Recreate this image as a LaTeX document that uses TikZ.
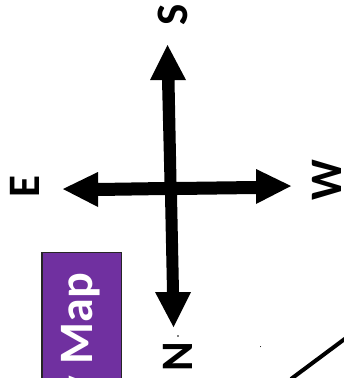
\documentclass[tikz,border=0pt]{standalone}
\usepackage{fontspec}
\setmainfont{Carlito}
\definecolor{keypurple}{HTML}{7030A0}
\tikzset{
  compass/.style={font=\fontsize{45}{45}\selectfont\bfseries, rotate=90, inner sep=0pt, text=black},
  arrowshape/.style={fill=black, draw=none},
  keybox/.style={fill=keypurple, draw=black!85, line width=1.5pt},
  keytext/.style={font=\fontsize{48}{48}\selectfont\bfseries, text=white, rotate=90, inner sep=0pt, anchor=base east}
}
\begin{document}
\begin{tikzpicture}[x=1pt,y=-1pt]
\useasboundingbox (0,0) rectangle (344,378);
\clip (0,0) rectangle (344,378);
\fill[white] (0,0) rectangle (344,378);
\fill[arrowshape] (167.5,45) -- (186,80) -- (174.5,80) -- (176.5,182) -- (256,181) -- (256,169) -- (291,186) -- (256,204) -- (256,194) -- (177,195) -- (179,292) -- (191,292) -- (173.5,327) -- (155,292) -- (167,292) -- (165,195) -- (98,196) -- (98,207) -- (63,189) -- (98,172) -- (98,183) -- (164.5,182) -- (162,80) -- (150,80) -- cycle;
\node[compass] (s) at (172.5,14.5) {S};
\node[compass] (e) at (25,187) {E};
\node[compass] (w) at (326.5,180) {W};
\node[compass] (n) at (177.5,357) {N};
\draw[keybox] (42,252.5) rectangle (121.5,390);
\node[keytext] (key) at (92,273) {y Map};
\draw[line width=4pt] (291,379) -- (346,338);
\fill (178,336) circle (0.8);
\fill (260.5,346.5) circle (0.5);
\end{tikzpicture}
\end{document}
